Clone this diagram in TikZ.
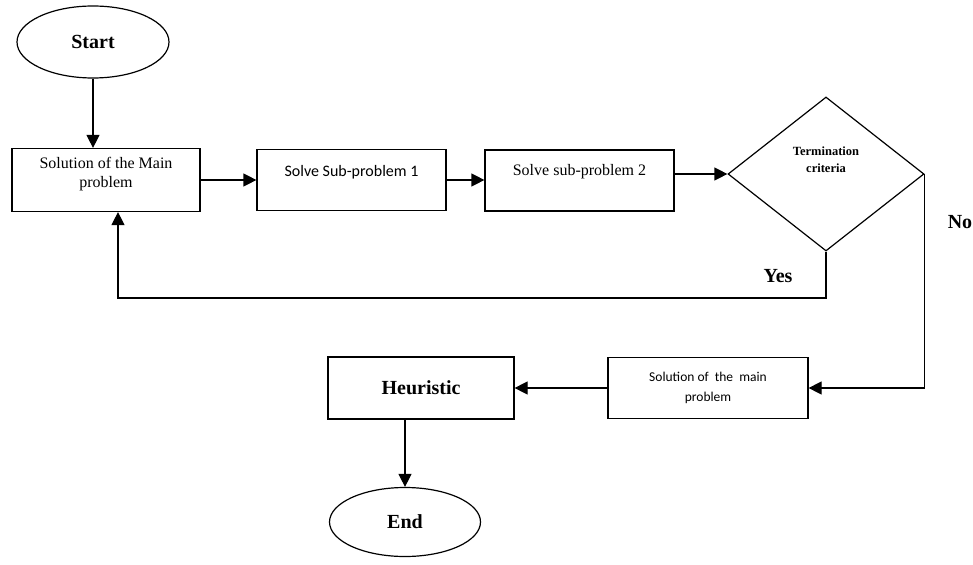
\documentclass[tikz,border=0pt]{standalone}
\usepackage{fontspec}
\setmainfont{Liberation Serif}
\newfontfamily\calibfont{Carlito}
\usetikzlibrary{arrows.meta,shapes.geometric}

\begin{document}
\begin{tikzpicture}[x=1bp, y=-1bp, line width=1.2bp, >={Triangle[length=13bp,width=13bp]}]

\useasboundingbox (0,0) rectangle (973,565);

%Start
\node[ellipse, draw, inner sep=0, minimum width=152bp, minimum height=72bp, font=\fontsize{20bp}{22bp}\selectfont\bfseries] (start) at (93,42) {Start};

%Main problem
\node[rectangle, draw, minimum width=188bp, minimum height=63bp] (mainsol) at (106,180) {};
\node[align=center, inner sep=0, font=\fontsize{16bp}{19bp}\selectfont] (mainsoltext) at (106,174) {Solution of the Main\\problem};

%Sub-problem 1
\node[rectangle, draw, minimum width=189bp, minimum height=61bp] (subone) at (351.5,180) {};
\node[inner sep=0, font=\calibfont\fontsize{16bp}{18bp}\selectfont] (subonetext) at (351.5,172) {Solve Sub-problem 1};

%Sub-problem 2
\node[rectangle, draw, minimum width=189bp, minimum height=61bp] (subtwo) at (579.5,180.5) {};
\node[inner sep=0, font=\fontsize{16bp}{18bp}\selectfont] (subtwotext) at (579.5,172) {Solve sub-problem 2};

%Termination
\node[diamond, draw, inner sep=0, minimum width=196bp, minimum height=154bp] (term) at (826,174) {};
\node[align=center, inner sep=0, font=\fontsize{12.5bp}{17bp}\selectfont\bfseries] (termtext) at (826,160) {Termination\\criteria};

%Solution of the main problem
\node[rectangle, draw, minimum width=200bp, minimum height=61bp, align=center, font=\calibfont\fontsize{13.5bp}{20bp}\selectfont] (mainsoltwo) at (708,388) {Solution of\ \ the\ \ main\\problem};

%Heuristic
\node[rectangle, draw, minimum width=186bp, minimum height=62bp, font=\fontsize{20bp}{22bp}\selectfont\bfseries] (heur) at (421,388) {Heuristic};

%End
\node[ellipse, draw, inner sep=0, minimum width=151bp, minimum height=69bp, font=\fontsize{20bp}{22bp}\selectfont\bfseries] (end) at (405,522) {End};

%Labels
\node[font=\fontsize{20bp}{22bp}\selectfont\bfseries] (yes) at (778,276) {Yes};
\node[font=\fontsize{20bp}{22bp}\selectfont\bfseries] (no) at (960,222) {No};

\coordinate (yescorner) at (118,298);

%Flow
\draw[->] (start.south) -- (start.south |- mainsol.north);
\draw[->] (mainsol.east) -- (mainsol.east -| subone.west);
\draw[->] (subone.east) -- (subone.east -| subtwo.west);
\draw[->] (subtwo.east |- term.west) -- (term.west);
\draw[->] (term.south) |- (yescorner) -- (yescorner |- mainsol.south);
\draw[->] (term.east) |- (mainsoltwo.east);
\draw[->] (mainsoltwo.west) -- (heur.east);
\draw[->] (end.north |- heur.south) -- (end.north);

\end{tikzpicture}
\end{document}
